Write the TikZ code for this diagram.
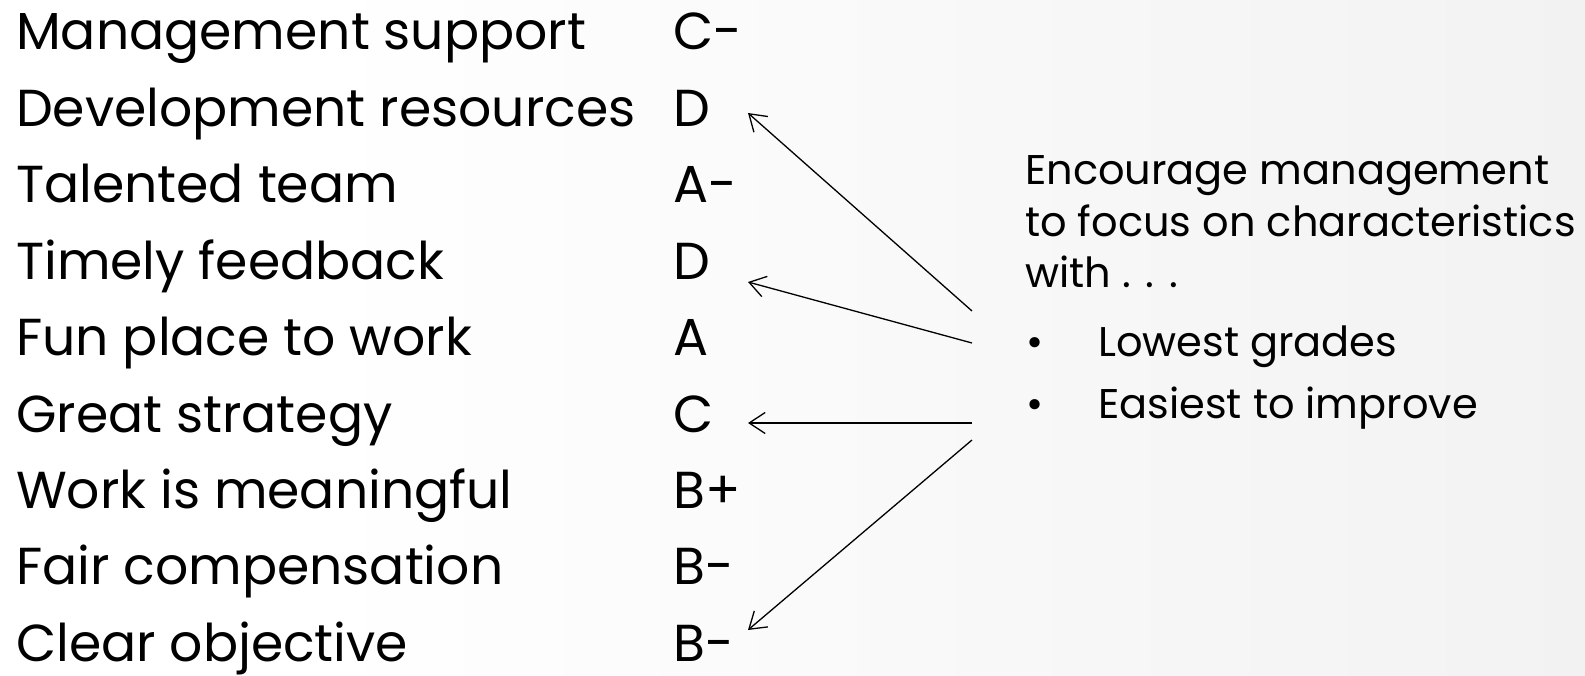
\documentclass[tikz,border=0pt]{standalone}
\usepackage{fontspec}
\setmainfont{Poppins}
\usetikzlibrary{arrows.meta}
\definecolor{bggray}{HTML}{EAEAEA}
\pgfdeclarehorizontalshading{bgshade}{100bp}{color(0bp)=(white); color(35bp)=(white); color(100bp)=(bggray)}
\tikzset{
  lbl/.style={anchor=base west, inner sep=0pt, font=\fontsize{52}{60}\selectfont},
  rtxt/.style={anchor=base west, inner sep=0pt, font=\fontsize{41.5}{50}\selectfont},
  pointer/.style={line width=1.3pt, -{Straight Barb[length=16pt,width=21pt,line width=1.3pt]}},
}
\begin{document}
\begin{tikzpicture}[x=1pt,y=-1pt]
\shade[shading=bgshade] (0,0) rectangle (1585,676);
\useasboundingbox (0,0) rectangle (1585,676);
% left column
\foreach \t [count=\i] in {Management support,Development resources,Talented team,Timely feedback,Fun place to work,Great strategy,Work is meaningful,Fair compensation,Clear objective}
  \node[lbl] (l\i) at (16,{50+76.4*(\i-1)}) {\t};
% grades
\foreach \g [count=\i] in {C-,D,A-,D,A,C,B+,B-,B-}
  \node[lbl] (g\i) at (673,{50+76.4*(\i-1)}) {\g};
% right text
\node[rtxt] (r1) at (1025,185) {Encourage management};
\node[rtxt] (r2) at (1025,237) {to focus on characteristics};
\node[rtxt] (r3) at (1025,288) {with . . .};
\node[rtxt] (b1) at (1026,356) {•};
\node[rtxt] (r4) at (1098,356) {Lowest grades};
\node[rtxt] (b2) at (1026,418) {•};
\node[rtxt] (r5) at (1098,418) {Easiest to improve};
% arrows
\coordinate (s1) at (972,311);
\coordinate (s2) at (972,343);
\coordinate (s3) at (972,423);
\coordinate (s4) at (972,440);
\coordinate (t1) at (748,113);
\coordinate (t2) at (748,282);
\coordinate (t3) at (748,423);
\coordinate (t4) at (748,630);
\draw[pointer] (s1) -- (t1);
\draw[pointer] (s2) -- (t2);
\draw[pointer] (s3) -- (t3);
\draw[pointer] (s4) -- (t4);
\end{tikzpicture}
\end{document}
